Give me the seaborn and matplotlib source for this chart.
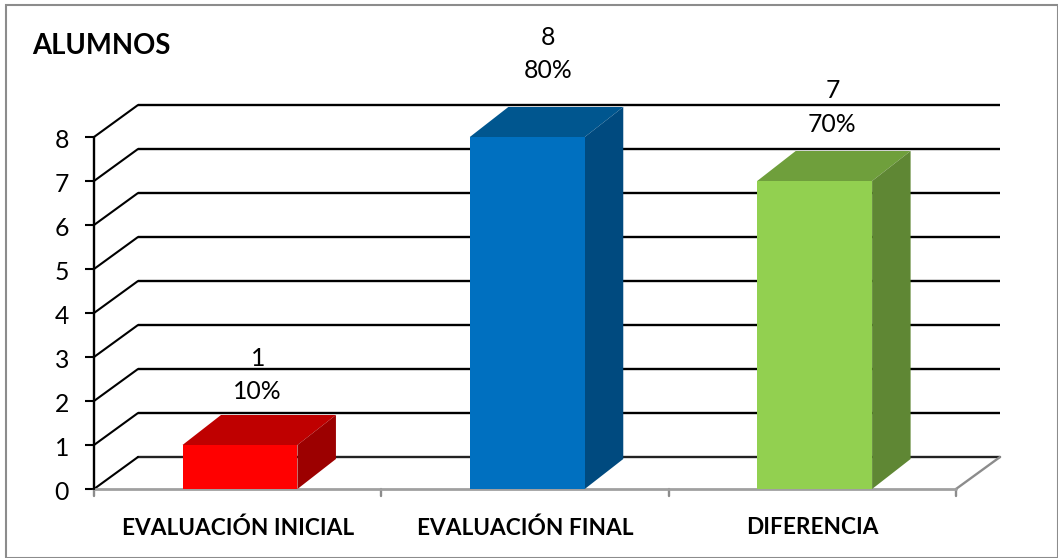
import matplotlib
matplotlib.use("Agg")
import matplotlib.pyplot as plt
import matplotlib.transforms as mt
from matplotlib.patches import Polygon, Rectangle
import pandas as pd
import seaborn as sns

categories = ["EVALUACIÓN INICIAL", "EVALUACIÓN FINAL", "DIFERENCIA"]
values = [1, 8, 7]
percents = ["10%", "80%", "70%"]
front_colors = ["#FF0000", "#0070C0", "#92D050"]
top_colors = ["#BF0000", "#00568F", "#6F9F3C"]
side_colors = ["#9C0000", "#004A7F", "#5F8734"]
y_ticks = list(range(0, 9))
title = "ALUMNOS"

W, H = 1058, 558
sns.set_theme(style="white")
plt.rcParams["font.family"] = ["Lato", "DejaVu Sans"]

fig = plt.figure(figsize=(W / 100, H / 100), dpi=100)
ax = fig.add_axes([94 / W, (H - 489) / H, 862 / W, 352 / H])
df = pd.DataFrame({"cat": categories, "val": values})
sns.barplot(data=df, x="cat", y="val", hue="cat", palette=front_colors, width=0.40,
            saturation=1, legend=False, ax=ax, linewidth=0, edgecolor="none")
ax.set_xlim(-0.5, 2.5)
ax.set_ylim(0, 8)
ax.set_xlabel("")
ax.set_ylabel("")
for s in ax.spines.values():
    s.set_visible(False)
ax.patch.set_visible(False)
px = mt.IdentityTransform()


def off(dx, dy):
    return ax.transData + mt.ScaledTranslation(dx / 100, -dy / 100, fig.dpi_scale_trans)


def seg(a, b, color, lw, z=1):
    ax.add_line(plt.Line2D([a[0], b[0]], [a[1], b[1]], transform=px, color=color, lw=lw,
                           clip_on=False, zorder=z))


WX, WY = 44, -32      # wall depth in pixels
BX, BY = 38.5, -30    # bar depth in pixels
BAR_SHIFT = 2.3       # bars sit slightly right of the category centres
LABEL_LIFT = [50, 63, 53.5]  # gap in pixels between bar top and its label block
LABEL_SHIFT = [20, 23, 20]   # horizontal label offset from the category centre
x0, x1 = -0.5, 2.5
base = ax.transData
wall = off(WX, WY)

for v in y_ticks[1:]:
    ax.plot([x0, x1], [v, v], transform=wall, color="black", lw=1.7, clip_on=False,
            zorder=1, solid_capstyle="butt")
    seg(base.transform((x0, v)), wall.transform((x0, v)), "black", 1.5)
ax.plot([x0, x1], [0, 0], transform=wall, color="#222222", lw=1.7, clip_on=False, zorder=1)
seg(base.transform((x0, 0)), wall.transform((x0, 0)), "black", 1.5)
seg(base.transform((x1, 0)), wall.transform((x1, 0)), "#8C8C8C", 1.7)

ax.plot([x0, x1], [0, 0], color="#A0A0A0", lw=2, clip_on=False, zorder=2)
ax.plot([x0, x0], [0, 8], color="black", lw=1.7, clip_on=False, zorder=2)
ax.set_yticks(y_ticks)
ax.set_xticks([0, 1, 2])
ax.set_xticklabels(categories, fontsize=16.3, fontweight="bold", color="black")
ax.set_yticklabels([str(v) for v in y_ticks], fontsize=17.8, color="black")
ax.tick_params(axis="y", length=6.5, width=1.5, color="black", pad=11.5, left=True)
ax.tick_params(axis="x", length=0, pad=20.5, bottom=False)
for lab in ax.get_yticklabels():
    lab.set_transform(lab.get_transform() + mt.Affine2D().translate(0, -2))
for e in [-0.5, 0.5, 1.5, 2.5]:
    pe = base.transform((e, 0))
    seg(pe, (pe[0], pe[1] - 7), "#8C8C8C", 1.7)

shift = mt.ScaledTranslation(BAR_SHIFT / 100, 0, fig.dpi_scale_trans)
bars = list(ax.patches)
for i, bar in enumerate(bars):
    bar.set_transform(base + shift)
    bar.set_zorder(5)
    bar.set_clip_on(False)
    left, right = bar.get_x(), bar.get_x() + bar.get_width()
    top = bar.get_height()
    corners = [(left, top), (right, top), (right, 0)]
    a = (base + shift).transform(corners)
    b = (base + shift + mt.ScaledTranslation(BX / 100, -BY / 100, fig.dpi_scale_trans)).transform(corners)
    ax.add_patch(Polygon([a[0], a[1], b[1], b[0]], closed=True, transform=px,
                         fc=top_colors[i], ec="none", zorder=4, clip_on=False))
    ax.add_patch(Polygon([a[1], a[2], b[2], b[1]], closed=True, transform=px,
                         fc=side_colors[i], ec="none", zorder=4, clip_on=False))
    ax.annotate(f"{values[i]}\n{percents[i]}", xy=((left + right) / 2, top),
                xytext=(LABEL_SHIFT[i], LABEL_LIFT[i] - 8), textcoords="offset pixels",
                ha="center", va="bottom", fontsize=17.8, color="black", linespacing=1.55,
                annotation_clip=False, zorder=6)

fig.text(32 / W, 1 - 46 / H, title, fontsize=19.8, fontweight="bold", color="black",
         ha="left", va="center")
fig.add_artist(Rectangle((6 / W, 0.5 / H), (W - 6.5) / W, (H - 5) / H, transform=fig.transFigure,
                         fc="none", ec="#8C8C8C", lw=1.5, zorder=10))
fig.savefig("out.png", dpi=100)
